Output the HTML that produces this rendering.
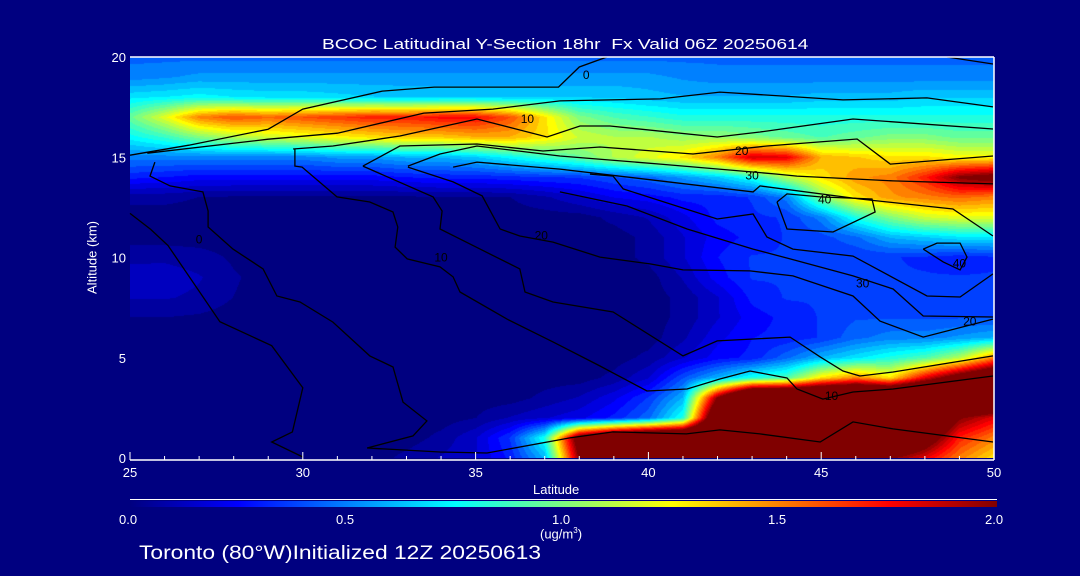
<!DOCTYPE html>
<html><head><meta charset="utf-8">
<style>
body{margin:0;background:#000080;}
#wrap{position:relative;width:1080px;height:576px;background:#000080;overflow:hidden;font-family:"Liberation Sans",sans-serif;color:#fff;}
.t{position:absolute;white-space:nowrap;color:#fff;}
</style></head>
<body>
<div id="wrap">
<div class="t" style="left:322px;top:36px;font-size:15px;transform:scaleX(1.28);transform-origin:left top;">BCOC Latitudinal Y-Section 18hr&nbsp; Fx Valid 06Z 20250614</div>
<canvas id="heat" width="864" height="401" style="position:absolute;left:130px;top:57px;"></canvas>
<svg id="ov" width="1080" height="576" style="position:absolute;left:0;top:0;"></svg>
<div class="t" style="left:47px;top:250px;font-size:13px;transform:rotate(-90deg);transform-origin:center;width:90px;text-align:center;">Altitude (km)</div>
<div class="t" style="left:533px;top:482px;font-size:13px;">Latitude</div>
<div style="position:absolute;left:130px;top:501px;width:867px;height:6px;background:linear-gradient(to right,#000080 0%,#0000ff 12.5%,#00ffff 37.5%,#ffff00 62.5%,#ff0000 87.5%,#800000 100%);"></div>
<div style="position:absolute;left:130px;top:499px;width:867px;height:1px;background:#fff;"></div>
<div class="t" style="left:119px;top:512px;font-size:13px;">0.0</div>
<div class="t" style="left:336px;top:512px;font-size:13px;">0.5</div>
<div class="t" style="left:552px;top:512px;font-size:13px;">1.0</div>
<div class="t" style="left:768px;top:512px;font-size:13px;">1.5</div>
<div class="t" style="left:985px;top:512px;font-size:13px;">2.0</div>
<div class="t" style="left:540px;top:526px;font-size:13px;">(ug/m<sup style="font-size:8px">3</sup>)</div>
<div class="t" style="left:139px;top:543px;font-size:19px;transform:scaleX(1.2);transform-origin:left top;">Toronto (80°W)Initialized 12Z 20250613</div>
</div>
<script>
const lats=[25,26,27,28,29,30,31,32,33,34,35,36,37,38,39,40,41,42,43,44,45,46,47,48,49,50];
const alts=[0,1,2,3,4,5,6,7,8,9,10,11,12,13,14,15,16,17,18,19,20];
const a0 =[0,0,0,0,0,0,0,0,0.05,0.1,0.15,0.3,0.6,2.0,2.2,2.4,2.4,2.4,2.4,2.4,2.4,2.2,2.0,1.8,1.5,1.3];
const a1 =[0,0,0,0,0,0,0,0,0,0.05,0.15,0.35,0.8,2.2,2.6,2.8,2.8,3,3,3,3,2.8,2.6,2.2,1.7,1.5];
const a2 =[0,0,0,0,0,0,0,0,0,0,0.03,0.1,0.15,0.2,0.3,0.45,0.8,2.5,3,3,3,3,3,2.6,2.0,1.8];
const a3 =[0,0,0,0,0,0,0,0,0,0,0,0,0.05,0.1,0.2,0.35,0.6,2.0,3,3,3,3,3,3,2.8,2.6];
const a4 =[0,0,0,0,0,0,0,0,0,0,0,0,0,0,0.05,0.15,0.4,0.6,0.8,0.9,1.3,1.5,1.3,1.8,2.2,2.5];
const a5 =[0,0,0,0,0,0,0,0,0,0,0,0,0,0,0,0.05,0.15,0.25,0.3,0.45,0.6,0.7,0.8,0.9,1.1,1.5];
const a6 =[0,0,0,0,0,0,0,0,0,0,0,0,0,0,0,0,0.08,0.2,0.28,0.3,0.35,0.45,0.5,0.5,0.55,0.6];
const a7 =[0.03,0.03,0.02,0,0,0,0,0,0,0,0,0,0,0,0,0,0.05,0.15,0.25,0.3,0.35,0.4,0.4,0.4,0.4,0.4];
const a8 =[0.1,0.1,0.08,0.03,0,0,0,0,0,0,0,0,0,0,0,0,0.05,0.15,0.3,0.35,0.35,0.35,0.35,0.35,0.35,0.35];
const a9 =[0.12,0.13,0.1,0.04,0,0,0,0,0,0,0,0,0,0,0,0,0.1,0.25,0.35,0.35,0.35,0.35,0.35,0.35,0.35,0.35];
const a10=[0.08,0.08,0.06,0.02,0,0,0,0,0,0,0,0,0,0,0,0.05,0.15,0.28,0.35,0.35,0.35,0.35,0.35,0.33,0.3,0.33];
const a11=[0,0,0,0,0,0,0,0,0,0,0,0,0,0,0,0.05,0.15,0.25,0.3,0.35,0.38,0.45,0.6,0.65,0.7,0.7];
const a12=[0,0,0,0,0,0,0,0,0,0,0,0,0,0,0.05,0.1,0.2,0.3,0.33,0.35,0.5,0.8,1.0,1.15,1.2,1.2];
const a13=[0.05,0.05,0.03,0.02,0.02,0.02,0.02,0.02,0.02,0.02,0.02,0.03,0.08,0.15,0.22,0.25,0.3,0.3,0.35,0.5,1.0,1.3,1.45,1.5,1.55,1.5];
const a14=[0.3,0.28,0.25,0.25,0.25,0.25,0.25,0.25,0.28,0.3,0.3,0.32,0.34,0.35,0.4,0.45,0.55,0.65,0.8,1.1,1.3,1.45,1.5,1.7,2.0,2.1];
const a15=[0.5,0.5,0.5,0.5,0.5,0.5,0.55,0.55,0.6,0.6,0.65,0.75,0.85,0.95,1.1,1.2,1.3,1.5,1.85,1.8,1.4,1.35,1.3,1.3,1.25,1.25];
const a16=[0.75,0.85,1.0,1.1,1.15,1.2,1.25,1.3,1.35,1.35,1.4,1.4,1.3,1.15,1.1,1.1,1.05,1.05,1.0,0.95,0.9,0.95,1.0,1.0,0.95,0.95];
const a17=[0.95,1.2,1.5,1.6,1.55,1.6,1.65,1.7,1.7,1.75,1.75,1.6,1.3,1.0,0.9,0.85,0.8,0.8,0.8,0.8,0.8,0.8,0.8,0.8,0.8,0.8];
const a18=[0.7,0.72,0.75,0.72,0.7,0.7,0.68,0.66,0.65,0.65,0.65,0.65,0.65,0.65,0.65,0.62,0.6,0.6,0.6,0.6,0.62,0.62,0.62,0.65,0.65,0.65];
const a19=[0.5,0.52,0.55,0.55,0.55,0.55,0.55,0.55,0.55,0.55,0.55,0.55,0.55,0.55,0.55,0.55,0.52,0.5,0.5,0.5,0.5,0.5,0.5,0.5,0.5,0.5];
const a20=[0.45,0.45,0.45,0.45,0.45,0.45,0.45,0.45,0.45,0.45,0.45,0.45,0.45,0.45,0.45,0.45,0.45,0.45,0.45,0.45,0.45,0.45,0.45,0.45,0.45,0.45];
const grid=[a0,a1,a2,a3,a4,a5,a6,a7,a8,a9,a10,a11,a12,a13,a14,a15,a16,a17,a18,a19,a20];

const xTicks=[25,30,35,40,45,50];
const yTicks=[0,5,10,15,20];

const cL1=[[25,15.1],[26.7,15.6],[29,16.4],[30,17.4],[32.3,18.3],[33.8,18.5],[37.4,18.5],[38,19.5],[38.8,20]];
const cL2=[[25.5,15.2],[29,15.9],[31,16.2],[33.5,17.2],[35.5,17.4],[37.44,17.81],[40.34,17.91],[42.07,18.25],[45.63,17.86],[48.06,17.96],[49.97,17.51]];
const cL3=[[29.72,15.41],[30.87,15.56],[32.81,16.06],[35.04,16.91],[37.07,16.01],[38.02,16.56],[38.89,16.56],[41.99,16.01],[43.23,16.26],[45.92,16.91],[49.97,16.41]];
const cL4=[[31.74,14.56],[32.81,15.56],[35.04,15.66],[36.95,15.31],[38.6,15.51],[41.29,15.16],[43.43,15.56],[46.04,15.91],[47.0,14.66],[49.97,15.06]];
const cL5=[[33.04,14.56],[33.97,15.16],[35.04,15.56],[37.44,15.06],[40.34,14.66],[43.72,14.16],[44.3,14.06],[47.08,13.82],[49.97,13.67]];
const cL6=[[34.35,14.51],[35.04,14.76],[37.44,14.41],[43.03,13.27],[43.23,13.57],[46.12,12.92],[48.81,12.42],[49.97,11.07]];
const cL7=[[38.31,14.16],[38.98,14.06],[39.27,13.42],[41.99,11.92],[43.03,12.17],[43.43,11.02],[44.18,10.42],[45.92,10.07],[48.06,8.08],[49.02,8.03],[49.97,9.18]];
const cL8=[[37.44,13.27],[39.38,12.57],[41.12,11.42],[43.03,10.42],[44.1,9.93],[45.92,9.08],[47.08,8.43],[47.95,7.08],[49.97,7.03]];
const cL9=[[43.72,12.77],[44.01,13.17],[44.97,13.02],[46.47,12.92],[46.56,12.27],[45.34,11.27],[44.01,11.42],[43.72,12.77]];
const cL10=[[47.95,10.42],[48.35,10.72],[49.02,10.72],[49.22,10.02],[49.02,9.38],[48.53,9.78],[47.95,10.42]];
const cL11=[[25,12.2],[25.6,11.4],[26.1,10.6],[27.6,6.8],[29.1,5.6],[30.0,3.5],[29.7,1.3],[29.1,0.8],[30.0,0.05]];
const cL12=[[25.72,14.76],[25.58,14.06],[26.16,13.57],[27.11,13.27],[27.26,12.32],[27.26,11.52],[27.98,10.42],[28.85,9.43],[29.25,8.08],[29.92,7.78],[30.87,6.78],[31.94,5.09],[32.61,4.54],[32.9,2.79],[33.59,1.85],[33.19,1.1],[31.86,0.5],[33.97,0.3],[35.33,0.25],[37.73,1.0],[38.98,1.3],[41.1,1.2],[42.07,1.4],[43.23,1.2],[44.97,0.8],[45.92,1.8],[47.08,1.45],[49.97,0.8]];
const cL13=[[29.77,15.41],[29.77,14.56],[29.98,14.51],[30.99,13.02],[31.94,12.77],[32.61,12.27],[32.75,11.52],[32.67,10.52],[33.02,9.93],[33.97,9.53],[34.35,9.03],[34.55,8.28],[35.91,6.93],[37.24,5.79],[38.6,4.59],[39.96,3.34],[41.12,3.44],[42.07,3.94],[42.94,4.34],[44.01,3.99],[44.3,3.44],[45.05,2.94],[45.92,3.29],[47.08,3.44],[49.97,4.09]];
const cL14=[[31.74,14.56],[33.77,13.02],[34.03,12.32],[33.97,11.42],[35.13,10.42],[36.28,9.43],[36.43,8.28],[37.24,7.78],[38.98,7.28],[41.0,5.09],[41.99,5.84],[44.1,6.03],[44.97,5.04],[45.63,4.34],[46.12,4.09],[47.08,4.29],[49.97,5.09]];
const cL15=[[33.04,14.51],[34.35,13.77],[35.19,13.07],[35.71,11.42],[36.28,11.07],[37.24,10.77],[38.6,10.02],[40.05,9.68],[41.0,9.38],[42.94,9.33],[44.18,9.08],[45.92,8.08],[46.7,6.83],[47.95,6.03],[49.97,6.93]];
const cL16=[[48.64,20],[49.97,19.65]];
const contours=[cL1,cL2,cL3,cL4,cL5,cL6,cL7,cL8,cL9,cL10,cL11,cL12,cL13,cL14,cL15,cL16];
const labelText=["0","10","20","30","40","40","10","20","30","0","10","20"];
const labelLat=[38.2,36.5,42.7,43.0,45.1,49.0,34.0,36.9,46.2,27.0,45.3,49.3];
const labelAlt=[19.1,16.9,15.3,14.1,12.9,9.7,10.0,11.1,8.7,10.9,3.1,6.8];

const X0=130,X1=994,Y0=458,Y1=57;
function xs(lat){return X0+(lat-25)/25*(X1-X0);}
function ys(alt){return Y0-alt/20*(Y0-Y1);}
function jet(v){let t=Math.max(0,Math.min(1,v/2));const c=x=>Math.max(0,Math.min(1,1.5-Math.abs(x)));return [c(4*t-3)*255,c(4*t-2)*255,c(4*t-1)*255];}
function val(lat,alt){
  let i=Math.max(0,Math.min(lats.length-1.0001,(lat-lats[0])/(lats[1]-lats[0])));
  let j=Math.max(0,Math.min(alts.length-1.0001,(alt-alts[0])/(alts[1]-alts[0])));
  let i0=Math.floor(i),j0=Math.floor(j),fi=i-i0,fj=j-j0;
  let v00=grid[j0][i0],v10=grid[j0][i0+1],v01=grid[j0+1][i0],v11=grid[j0+1][i0+1];
  return (v00*(1-fi)+v10*fi)*(1-fj)+(v01*(1-fi)+v11*fi)*fj;
}
const cv=document.getElementById('heat'),ctx=cv.getContext('2d');
const W=cv.width,H=cv.height,img=ctx.createImageData(W,H);
for(let py=0;py<H;py++){const alt=(Y0-(Y1+py+0.5))/(Y0-Y1)*20;
 for(let px=0;px<W;px++){const lat=25+(px+0.5)/W*25;
  let v=val(lat,alt);v=Math.round(v*16)/16;const c=jet(v);const k=(py*W+px)*4;
  img.data[k]=c[0];img.data[k+1]=c[1];img.data[k+2]=c[2];img.data[k+3]=255;}}
ctx.putImageData(img,0,0);

const NS='http://www.w3.org/2000/svg',ov=document.getElementById('ov');
function mk(tag,attrs){const e=document.createElementNS(NS,tag);for(const k in attrs)e.setAttribute(k,attrs[k]);ov.appendChild(e);return e;}
contours.forEach((c,i)=>{
  const p=mk('polyline',{points:c.map(q=>xs(q[0]).toFixed(1)+','+ys(q[1]).toFixed(1)).join(' '),fill:'none',stroke:'#000','stroke-width':1.3});
  
  
});
labelText.forEach((s,i)=>{
  const t=mk('text',{x:xs(labelLat[i]),y:ys(labelAlt[i])+4,'font-size':12,'font-family':'Liberation Sans, sans-serif',fill:'#000','text-anchor':'middle'});
  t.textContent=s;
  
  
});
[[X0,Y1,X1,Y1],[X1,Y1,X1,Y0+2],[X0,Y0+2,X1,Y0+2]].forEach(l=>{
  const e=mk('line',{x1:l[0],y1:l[1],x2:l[2],y2:l[3],stroke:'#fff','stroke-width':1.5});
  
  
});
for(let lat=25;lat<=50;lat++){
  const major=xTicks.indexOf(lat)>=0;
  const e=mk('line',{x1:xs(lat),y1:Y0+2,x2:xs(lat),y2:Y0+2-(major?8:4),stroke:'#fff','stroke-width':1});
  
  
}
xTicks.forEach(v=>{
  const t=mk('text',{x:xs(v),y:Y0+19,'font-size':13,'font-family':'Liberation Sans, sans-serif',fill:'#fff','text-anchor':'middle'});
  t.textContent=String(v);
  
  
});
yTicks.forEach(v=>{
  const t=mk('text',{x:126,y:ys(v)+5,'font-size':13,'font-family':'Liberation Sans, sans-serif',fill:'#fff','text-anchor':'end'});
  t.textContent=String(v);
  
  
});
</script>
</body></html>
